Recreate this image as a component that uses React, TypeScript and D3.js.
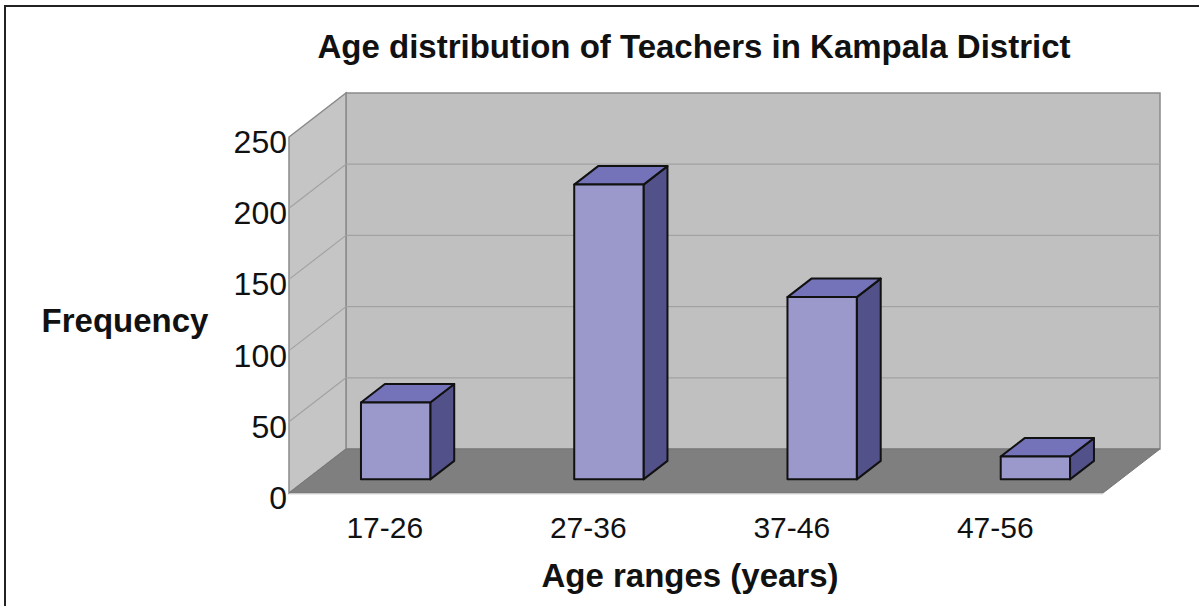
import { useEffect } from "react";
import * as d3 from "d3";

const categories = ["17-26", "27-36", "37-46", "47-56"];
const frequency = [54, 207, 128, 16];
const yTicks = [0, 50, 100, 150, 200, 250];

const title = "Age distribution of Teachers in Kampala District";
const xTitle = "Age ranges (years)";
const yTitle = "Frequency";

export default function App() {
  useEffect(() => {
    document.body.style.margin = "0";
  }, []);

  const width = 1199;
  const height = 606;
  const font = "'Liberation Sans', Arial, Helvetica, sans-serif";

  // plot box: front plane and depth offset (oblique projection)
  const left = 289;
  const right = 1103;
  const depth = { dx: 57, dy: -44 };

  const yFront = d3.scaleLinear().domain([0, 250]).range([493, 137]);
  const xFront = d3.scaleBand().domain(categories).range([left, right]);

  // bars sit partly inside the floor depth
  const f0 = 0.31;
  const f1 = 0.73;
  const barOff = { dx: depth.dx * f0, dy: depth.dy * f0 };
  const barDepth = { dx: depth.dx * (f1 - f0), dy: depth.dy * (f1 - f0) };
  const xBar = d3
    .scalePoint()
    .domain(categories)
    .range([left, 1142])
    .padding(0.5);
  const barW = xBar.step() * 0.325;

  const pts = (p: [number, number][]) => p.map((d) => d.join(",")).join(" ");

  const yb = (v: number) => yFront(v) + depth.dy;
  const xl = left + depth.dx;
  const xr = right + depth.dx;

  return (
    <svg
      width={width}
      height={height}
      style={{ position: "fixed", left: 0, top: 0, background: "#fff" }}
      fontFamily={font}
    >
      {/* frame */}
      <rect x={5} y={6} width={1220} height={640} fill="#fff" stroke="#222" strokeWidth={2} />

      <text x={694} y={58} textAnchor="middle" fontSize={33} fontWeight="bold" fill="#111">
        {title}
      </text>

      {/* back wall */}
      <polygon
        points={pts([[xl, yb(250)], [xr, yb(250)], [xr, yb(0)], [xl, yb(0)]])}
        fill="#c0c0c0"
        stroke="#8a8a8a"
        strokeWidth={1.5}
      />
      {/* left wall */}
      <polygon
        points={pts([[left, yFront(250)], [xl, yb(250)], [xl, yb(0)], [left, yFront(0)]])}
        fill="#c5c5c5"
        stroke="#8a8a8a"
        strokeWidth={1.5}
      />
      {/* gridlines */}
      {yTicks.slice(1, -1).map((t) => (
        <g key={t} stroke="#a2a2a2" strokeWidth={1.2}>
          <line x1={xl} x2={xr} y1={yb(t)} y2={yb(t)} />
          <line x1={left} x2={xl} y1={yFront(t)} y2={yb(t)} />
        </g>
      ))}
      {/* floor */}
      <polygon
        points={pts([[left, yFront(0)], [right, yFront(0)], [xr, yb(0)], [xl, yb(0)]])}
        fill="#7f7f7f"
        stroke="#777"
        strokeWidth={1}
      />
      <line x1={left} x2={right} y1={yFront(0) + 1} y2={yFront(0) + 1} stroke="#d8d8d8" strokeWidth={1} />

      {/* bars */}
      {categories.map((c, i) => {
        const x0 = (xBar(c) ?? 0) - barW / 2;
        const x1 = x0 + barW;
        const yTop = yFront(frequency[i]) + barOff.dy;
        const yBot = yFront(0) + barOff.dy;
        const { dx, dy } = barDepth;
        return (
          <g key={c} stroke="#111" strokeWidth={2} strokeLinejoin="round">
            <polygon
              points={pts([[x1, yTop], [x1 + dx, yTop + dy], [x1 + dx, yBot + dy], [x1, yBot]])}
              fill="#535189"
            />
            <polygon
              points={pts([[x0, yTop], [x0 + dx, yTop + dy], [x1 + dx, yTop + dy], [x1, yTop]])}
              fill="#7473b9"
            />
            <rect x={x0} y={yTop} width={barW} height={yBot - yTop} fill="#9b98cb" />
          </g>
        );
      })}

      {/* y axis labels */}
      {yTicks.map((t) => (
        <text key={t} x={287} y={yFront(t) + 16} textAnchor="end" fontSize={32} fill="#111">
          {t}
        </text>
      ))}

      {/* x axis labels */}
      {categories.map((c) => (
        <text
          key={c}
          x={(xFront(c) ?? 0) + xFront.bandwidth() / 2 - 6}
          y={538}
          textAnchor="middle"
          fontSize={30}
          fill="#111"
        >
          {c}
        </text>
      ))}

      <text x={125} y={332} textAnchor="middle" fontSize={33} fontWeight="bold" fill="#111">
        {yTitle}
      </text>
      <text x={690} y={587} textAnchor="middle" fontSize={33} fontWeight="bold" fill="#111">
        {xTitle}
      </text>
    </svg>
  );
}
